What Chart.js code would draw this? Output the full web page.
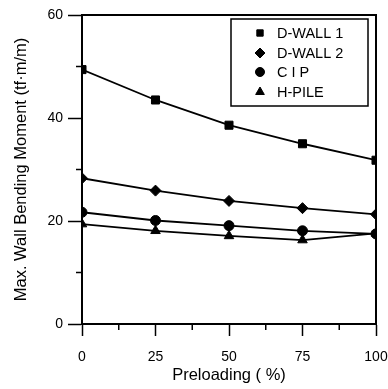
<!DOCTYPE html>
<html>
<head>
<meta charset="utf-8">
<script src="https://cdn.jsdelivr.net/npm/chart.js@4/dist/chart.umd.min.js"></script>
<style>
html,body{margin:0;padding:0;background:#fff;}
#wrap{width:388px;height:389px;position:relative;}
</style>
</head>
<body>
<div id="wrap"><canvas id="c" width="388" height="389"></canvas></div>
<script>
const preloading = [0, 25, 50, 75, 100];
const seriesNames = ['D-WALL 1', 'D-WALL 2', 'C I P', 'H-PILE'];
const dwall1 = [49.4, 43.5, 38.6, 35.0, 31.8];
const dwall2 = [28.3, 25.9, 23.9, 22.5, 21.3];
const cip = [21.7, 20.1, 19.1, 18.1, 17.5];
const hpile = [19.4, 18.1, 17.1, 16.3, 17.6];
const yMinorTicks = [10, 30, 50];
const xMinorTicks = [12.5, 37.5, 62.5, 87.5];
const xTitle = 'Preloading ( %)';
const yTitle = 'Max. Wall Bending Moment (tf·m/m)';

const FONT = '"Liberation Sans", Arial, sans-serif';
const styles = ['rect', 'rectRot', 'circle', 'triangle'];
const radii = [5.7, 5.5, 5, 5.5];
const legendRadii = [4.5, 5, 4.5, 5];
const allData = [dwall1, dwall2, cip, hpile];

const datasets = allData.map((arr, i) => ({
  label: seriesNames[i],
  data: preloading.map((x, j) => ({x: x, y: arr[j]})),
  borderColor: '#000',
  backgroundColor: '#000',
  borderWidth: 1.8,
  pointStyle: styles[i],
  pointRadius: radii[i],
  pointBorderWidth: 1,
  pointBackgroundColor: '#000',
  pointBorderColor: '#000',
  tension: 0,
  fill: false
}));

const extras = {
  id: 'extras',
  afterDraw(chart) {
    const ctx = chart.ctx;
    const a = chart.chartArea;
    const xs = chart.scales.x, ys = chart.scales.y;
    ctx.save();
    ctx.strokeStyle = '#000';
    ctx.lineWidth = 2;
    ctx.strokeRect(a.left, a.top, a.right - a.left, a.bottom - a.top);
    ctx.lineWidth = 1.5;
    ctx.beginPath();
    yMinorTicks.forEach(v => {
      const p = ys.getPixelForValue(v);
      ctx.moveTo(a.left - 6, p); ctx.lineTo(a.left, p);
    });
    xMinorTicks.forEach(v => {
      const p = xs.getPixelForValue(v);
      ctx.moveTo(p, a.bottom); ctx.lineTo(p, a.bottom + 6);
    });
    ctx.stroke();
    // legend
    const bx = 231, by = 19, bw = 137, bh = 87;
    ctx.fillStyle = '#fff';
    ctx.fillRect(bx, by, bw, bh);
    ctx.lineWidth = 1.5;
    ctx.strokeRect(bx, by, bw, bh);
    const rows = [33, 53, 72, 92];
    ctx.font = '14.5px ' + FONT;
    ctx.textBaseline = 'middle';
    ctx.textAlign = 'left';
    seriesNames.forEach((n, i) => {
      ctx.fillStyle = '#000';
      ctx.strokeStyle = '#000';
      ctx.lineWidth = 1;
      Chart.helpers.drawPoint(ctx, {pointStyle: styles[i], radius: legendRadii[i], borderWidth: 1, rotation: 0}, 260, rows[i]);
      ctx.fillText(n, 277, rows[i] + 1);
    });
    ctx.restore();
  }
};

new Chart(document.getElementById('c'), {
  type: 'line',
  data: {datasets},
  plugins: [extras],
  options: {
    responsive: false,
    animation: false,
    devicePixelRatio: 1,
    layout: {padding: {left: 0, right: 12, top: 15, bottom: 0}},
    plugins: {legend: {display: false}, tooltip: {enabled: false}},
    scales: {
      x: {
        type: 'linear', min: 0, max: 100,
        afterFit(s) { s.height = 65; s.paddingRight = 0; s.paddingLeft = 0; },
        ticks: {stepSize: 25, color: '#000', font: {family: FONT, size: 14}, padding: 13},
        grid: {drawOnChartArea: false, tickLength: 12, color: '#000', tickColor: '#000', tickWidth: 1.5},
        border: {color: '#000', width: 2},
        title: {display: true, text: xTitle, color: '#000', font: {family: FONT, size: 16.5}, padding: {top: 0, bottom: 4}}
      },
      y: {
        min: 0, max: 60,
        afterFit(s) { s.width = 82; s.paddingTop = 0; s.paddingBottom = 0; },
        ticks: {stepSize: 20, color: '#000', font: {family: FONT, size: 14}, padding: 5},
        grid: {drawOnChartArea: false, tickLength: 14, color: '#000', tickColor: '#000', tickWidth: 1.5},
        border: {color: '#000', width: 2},
        title: {display: true, text: yTitle, color: '#000', font: {family: FONT, size: 16.5}, padding: {top: 12, bottom: 0}}
      }
    }
  }
});
</script>
</body>
</html>
